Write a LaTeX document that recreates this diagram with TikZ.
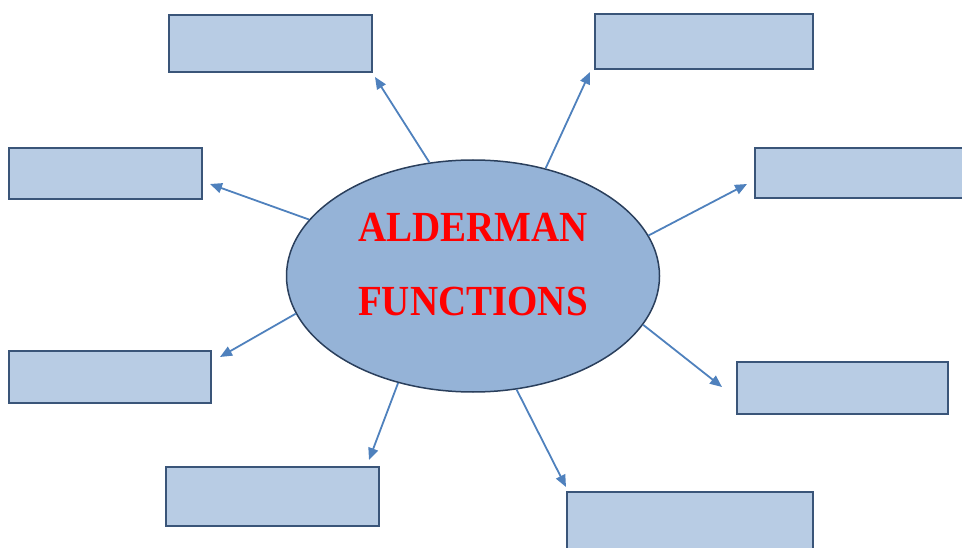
\documentclass[tikz,border=0pt]{standalone}
\usepackage{fontspec}
\setmainfont{Liberation Serif}
\usetikzlibrary{shapes.geometric,arrows.meta}
\definecolor{boxfill}{HTML}{B8CCE4}
\definecolor{boxline}{HTML}{3A5579}
\definecolor{ellfill}{HTML}{95B3D7}
\definecolor{ellline}{HTML}{2A3F5C}
\definecolor{arrowc}{HTML}{4F81BD}
\tikzset{
  fbox/.style={draw=boxline, fill=boxfill, line width=2pt, rectangle, inner sep=0pt},
  conn/.style={draw=arrowc, line width=1.8pt, -{Triangle[length=12pt,width=10pt]}},
}
\begin{document}
\begin{tikzpicture}[x=1pt,y=-1pt]
\useasboundingbox (0,0) rectangle (962,548);
\node[ellipse, draw=ellline, fill=ellfill, line width=1.5pt, minimum width=373pt, minimum height=232pt, inner sep=0pt] (ell) at (473,276) {};
\node[align=center, text=red, font=\fontsize{39}{74}\selectfont\bfseries, inner sep=0pt] (title) at (473,265) {\scalebox{1}[1.1]{ALDERMAN}\\\scalebox{1}[1.1]{FUNCTIONS}};

\node[fbox, minimum width=203pt, minimum height=57pt] (b1) at (270.5,43.5) {};
\node[fbox, minimum width=218pt, minimum height=55pt] (b2) at (704,41.5) {};
\node[fbox, minimum width=193pt, minimum height=51pt] (b3) at (105.5,173.5) {};
\node[fbox, minimum width=214pt, minimum height=50pt] (b4) at (862,173) {};
\node[fbox, minimum width=202pt, minimum height=52pt] (b5) at (110,377) {};
\node[fbox, minimum width=211pt, minimum height=52pt] (b6) at (842.5,388) {};
\node[fbox, minimum width=213pt, minimum height=59pt] (b7) at (272.5,496.5) {};
\node[fbox, minimum width=246pt, minimum height=66pt] (b8) at (690,525) {};

\coordinate (e1) at (375,77);
\coordinate (e2) at (590,72);
\coordinate (e3) at (210,184);
\coordinate (e4) at (747,184);
\coordinate (e5) at (220,357);
\coordinate (e6) at (722,387);
\coordinate (e7) at (369,460);
\coordinate (e8) at (566,487);

\draw[conn] (ell.111) -- (e1);
\draw[conn] (ell.56) -- (e2);
\draw[conn] (ell.161) -- (e3);
\draw[conn] (ell.13) -- (e4);
\draw[conn] (ell.192) -- (e5);
\draw[conn] (ell.-16) -- (e6);
\draw[conn] (ell.235) -- (e7);
\draw[conn] (ell.-69.5) -- (e8);
\end{tikzpicture}
\end{document}
